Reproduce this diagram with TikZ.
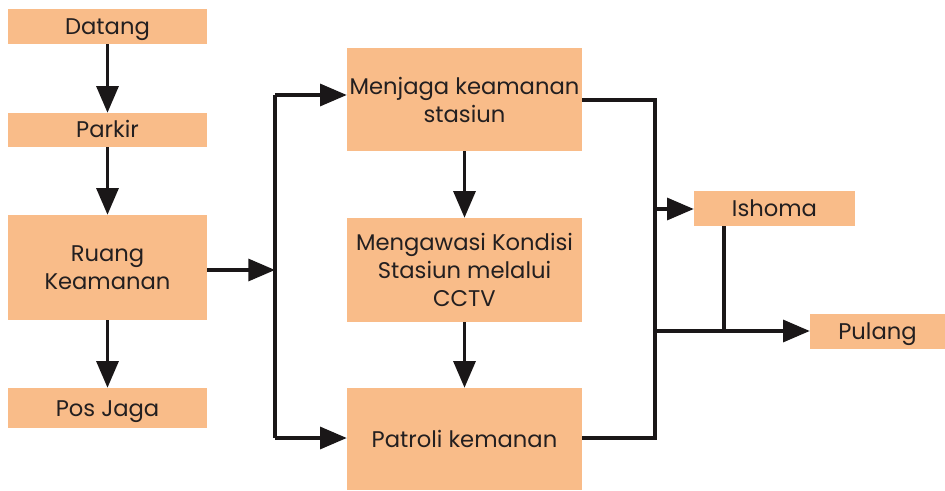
\documentclass[tikz,border=0pt]{standalone}
\usepackage{fontspec}
\setmainfont{Poppins}
\usetikzlibrary{arrows.meta}
\definecolor{boxfill}{RGB}{249,188,137}
\definecolor{ink}{RGB}{35,31,32}
\definecolor{wire}{RGB}{26,23,24}
\begin{document}
\begin{tikzpicture}[x=0.75pt,y=-0.75pt,
  stepbox/.style={rectangle, fill=boxfill, inner sep=0pt, align=center,
    text=ink, font=\fontsize{17pt}{21pt}\selectfont},
  oneline/.style={text height=12pt, text depth=0pt},
  link/.style={draw=wire, line width=2.4pt},
  flow/.style={link, -{Triangle[length=20pt,width=16.5pt]}}]
\useasboundingbox (0,0) rectangle (945,491);

% left column
\node[stepbox, oneline, minimum width=199*0.75pt, minimum height=35*0.75pt] (datang) at (107.5,26.5) {Datang};
\node[stepbox, oneline, minimum width=199*0.75pt, minimum height=34*0.75pt] (parkir) at (107.5,130) {Parkir};
\node[stepbox, minimum width=199*0.75pt, minimum height=105*0.75pt] (ruang) at (107.5,267.5) {Ruang\\Keamanan};
\node[stepbox, oneline, minimum width=199*0.75pt, minimum height=40*0.75pt] (posjaga) at (107.5,408) {Pos Jaga};

% middle column
\node[stepbox, minimum width=235*0.75pt, minimum height=103*0.75pt] (menjaga) at (464.5,99.5) {Menjaga keamanan\\stasiun};
\node[stepbox, minimum width=235*0.75pt, minimum height=104*0.75pt] (mengawasi) at (464.5,270) {Mengawasi Kondisi\\Stasiun melalui\\CCTV};
\node[stepbox, oneline, minimum width=235*0.75pt, minimum height=102*0.75pt] (patroli) at (464.5,439) {Patroli kemanan};

% right column
\node[stepbox, oneline, minimum width=161*0.75pt, minimum height=35*0.75pt] (ishoma) at (774.5,208.5) {Ishoma};
\node[stepbox, oneline, minimum width=135*0.75pt, minimum height=35*0.75pt] (pulang) at (877.5,331.5) {Pulang};

% bus coordinates
\coordinate (busL)    at (275,270);
\coordinate (busLtop) at (275,95);
\coordinate (busLbot) at (275,438);
\coordinate (busRtop) at (655,100);
\coordinate (busRbot) at (655,438);
\coordinate (busRi)   at (655,209);
\coordinate (busRp)   at (655,331);
\coordinate (jn)      at (724,331);

% left column arrows
\draw[flow] (datang) -- (parkir);
\draw[flow] (parkir) -- (ruang);
\draw[flow] (ruang) -- (posjaga);

% into the middle column
\draw[flow] (ruang.east |- busL) -- (busL);
\draw[link] (busLtop) -- (busLbot);
\draw[flow] (busLtop) -- (menjaga.west |- busLtop);
\draw[flow] (busLbot) -- (patroli.west |- busLbot);

% middle column arrows
\draw[flow] (menjaga) -- (mengawasi);
\draw[flow] (mengawasi) -- (patroli);

% out of the middle column
\draw[link] (menjaga.east |- busRtop) -- (busRtop) -- (busRbot) -- (patroli.east |- busRbot);
\draw[flow] (busRi) -- (ishoma.west |- busRi);
\draw[flow] (busRp) -- (pulang.west |- busRp);
\draw[link] (ishoma.south -| jn) -- (jn);
\end{tikzpicture}
\end{document}
